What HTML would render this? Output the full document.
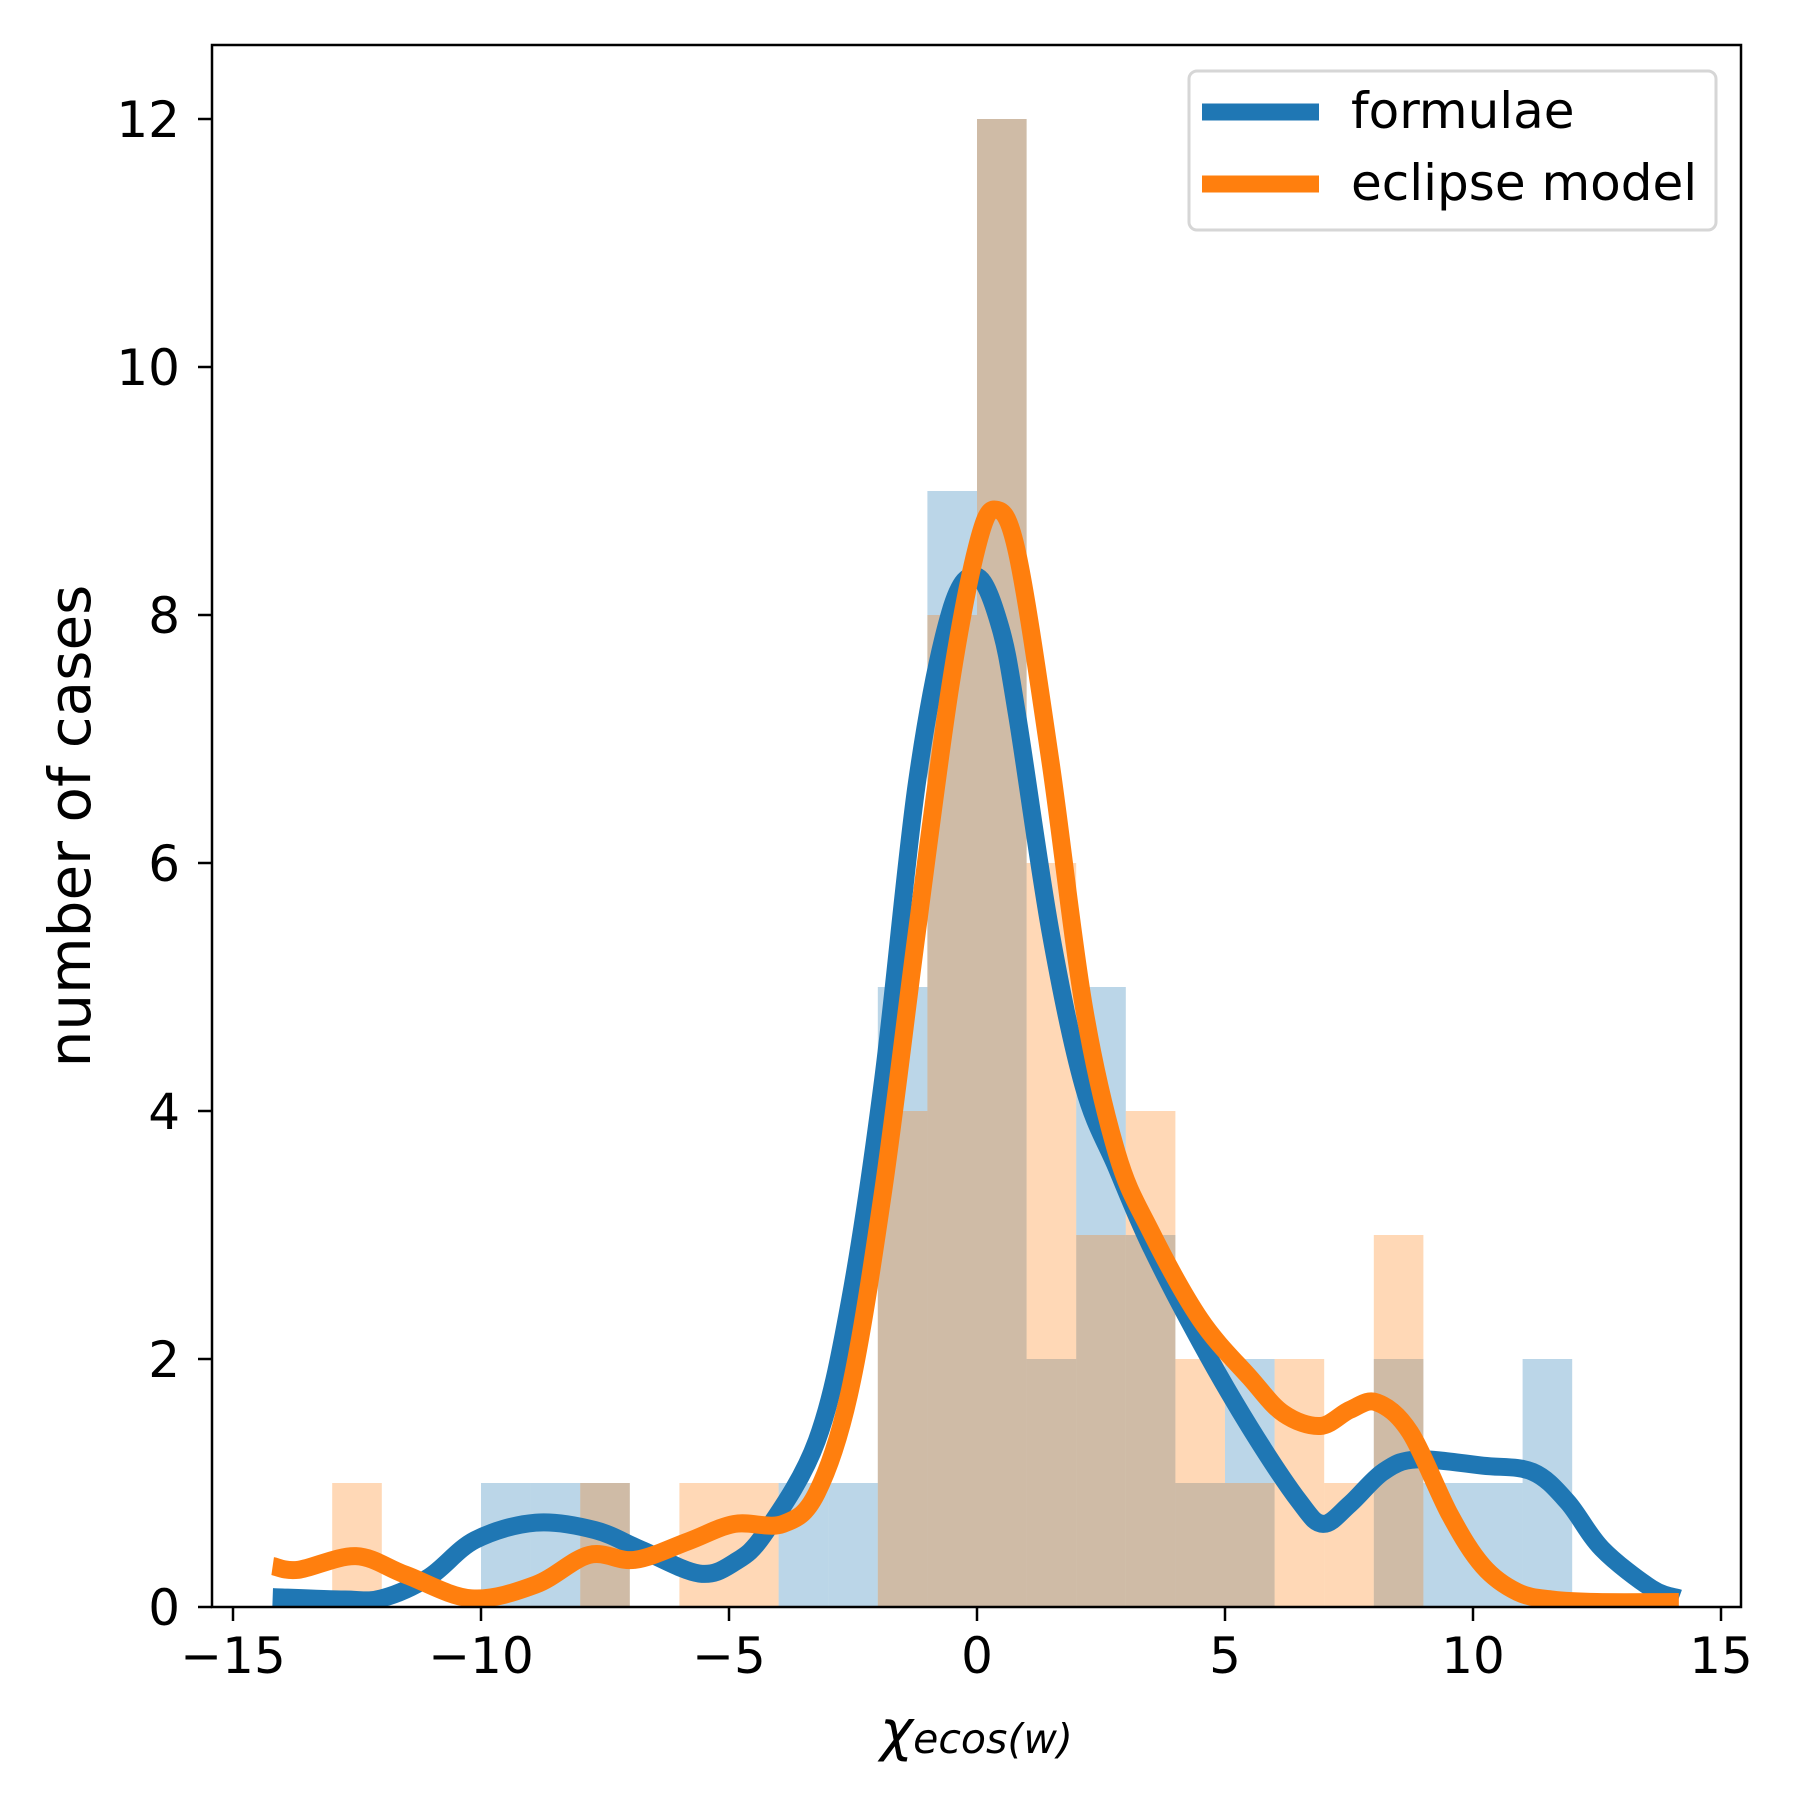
<!DOCTYPE html>
<html><head><meta charset="utf-8"><style>
html,body{margin:0;padding:0;background:#fff;}
svg{display:block;font-family:"DejaVu Sans","Liberation Sans",sans-serif;}
</style></head><body>
<svg id="chart" width="1800" height="1800" viewBox="0 0 1800 1800">
<defs><clipPath id="plotclip"><rect x="212" y="45" width="1529" height="1562"/></clipPath></defs>
<g id="plot" clip-path="url(#plotclip)"></g>
<g id="axes"></g>
</svg>
<script>
// Histogram data (bin left edges, width 1)
const blueBins = [-10,-9,-8,-4,-3,-2,-1,0,1,2,3,4,5,8,9,10,11];
const blueCounts = [1,1,1,1,1,5,9,12,2,5,3,1,2,2,1,1,2];
const orangeBins = [-13,-8,-6,-5,-2,-1,0,1,2,3,4,5,6,7,8];
const orangeCounts = [1,1,1,1,4,8,12,6,3,4,2,1,2,1,3];
// KDE curve samples
const blueX = [-14.2,-12.75,-12,-11.05,-10.12,-8.9,-7.7,-6.76,-5.6,-4.89,-4.27,-3.23,-2.56,-1.89,-1.21,-0.54,0,0.47,0.81,1.48,2.15,2.82,3.49,4.5,5.5,6.5,6.98,7.52,8.19,8.86,10.2,11.2,11.9,12.6,13.6,14.15];
const blueY = [0.08,0.06,0.07,0.24,0.54,0.68,0.62,0.46,0.27,0.36,0.6,1.34,2.47,4.26,6.65,8.02,8.31,7.9,7.19,5.45,4.2,3.54,2.92,2.14,1.45,0.85,0.67,0.83,1.09,1.19,1.14,1.09,0.85,0.47,0.15,0.07];
const orangeX = [-14.2,-13.68,-12.52,-11.52,-10.2,-8.9,-7.82,-6.9,-5.82,-4.89,-3.91,-3.23,-2.56,-1.89,-1.21,-0.54,0,0.37,0.81,1.48,2.15,2.82,3.49,4.5,5.5,6.18,6.92,7.52,8.06,8.73,9.54,10.2,10.9,11.6,12.5,14.15];
const orangeY = [0.33,0.3,0.41,0.26,0.07,0.18,0.42,0.38,0.53,0.67,0.67,0.92,1.75,3.36,5.45,7.42,8.55,8.85,8.5,6.82,4.85,3.66,3.04,2.32,1.85,1.56,1.46,1.59,1.65,1.41,0.74,0.33,0.12,0.06,0.04,0.04];
const xTicks = [-15,-10,-5,0,5,10,15];
const xTickLabels = ["\u221215","\u221210","\u22125","0","5","10","15"];
const yTicks = [0,2,4,6,8,10,12];
const yTickLabels = ["0","2","4","6","8","10","12"];

const X0 = 977, XS = 49.6, Y0 = 1607, YS = 124;
function sx(v){ return X0 + v*XS; }
function sy(v){ return Y0 - v*YS; }
const NS = "http://www.w3.org/2000/svg";
const plot = document.getElementById('plot');
const axes = document.getElementById('axes');
function mk(tag, attrs, parent){ const e=document.createElementNS(NS,tag); for(const k in attrs) e.setAttribute(k,attrs[k]); parent.appendChild(e); return e; }

blueBins.forEach((b,i)=>{
  const r = mk('rect',{x:sx(b),y:sy(blueCounts[i]),width:sx(b+1)-sx(b),height:sy(0)-sy(blueCounts[i]),fill:'#1f77b4','fill-opacity':0.3},plot);
  
  
});
orangeBins.forEach((b,i)=>{
  const r = mk('rect',{x:sx(b),y:sy(orangeCounts[i]),width:sx(b+1)-sx(b),height:sy(0)-sy(orangeCounts[i]),fill:'#ff7f0e','fill-opacity':0.3},plot);
  
  
});
function smoothPath(xs, ys){
  const p = xs.map((x,i)=>[sx(x), sy(ys[i])]);
  let d = 'M'+p[0][0]+','+p[0][1];
  for(let i=0;i<p.length-1;i++){
    const p0=p[Math.max(0,i-1)], p1=p[i], p2=p[i+1], p3=p[Math.min(p.length-1,i+2)];
    const c1=[p1[0]+(p2[0]-p0[0])/6, p1[1]+(p2[1]-p0[1])/6];
    const c2=[p2[0]-(p3[0]-p1[0])/6, p2[1]-(p3[1]-p1[1])/6];
    d+=' C'+c1[0]+','+c1[1]+' '+c2[0]+','+c2[1]+' '+p2[0]+','+p2[1];
  }
  return d;
}
const bl = mk('path',{d:smoothPath(blueX,blueY),fill:'none',stroke:'#1f77b4','stroke-width':18,'stroke-linejoin':'round'},plot);


const ol = mk('path',{d:smoothPath(orangeX,orangeY),fill:'none',stroke:'#ff7f0e','stroke-width':18,'stroke-linejoin':'round'},plot);



// frame
const fr = mk('rect',{x:212,y:45,width:1529,height:1562,fill:'none',stroke:'#000','stroke-width':2.5},axes);


xTicks.forEach((t,i)=>{
  const l = mk('line',{x1:sx(t),x2:sx(t),y1:1607,y2:1621,stroke:'#000','stroke-width':2.5},axes);
  
  
  const tx = mk('text',{x:sx(t),y:1673,'font-size':50,'text-anchor':'middle',fill:'#000'},axes);
  tx.textContent = xTickLabels[i];
  
  
});
yTicks.forEach((t,i)=>{
  const l = mk('line',{x1:198,x2:212,y1:sy(t),y2:sy(t),stroke:'#000','stroke-width':2.5},axes);
  
  
  const tx = mk('text',{x:180,y:sy(t)+18,'font-size':50,'text-anchor':'end',fill:'#000'},axes);
  tx.textContent = yTickLabels[i];
  
  
});
</script>
<div style="position:absolute;left:0;top:0;width:1800px;height:1800px;pointer-events:none;">
<svg width="1800" height="1800" style="position:absolute;left:0;top:0;font-family:'DejaVu Sans','Liberation Sans',sans-serif;">
  <text x="90" y="826" font-size="58" text-anchor="middle" transform="rotate(-90 90 826)" fill="#000">number of cases</text>
  <text x="880" y="1750" font-size="56" font-style="italic" fill="#000">χ<tspan font-size="41" dy="3">ecos(w)</tspan></text>
  <g>
    <rect x="1189" y="71" width="527" height="159" rx="8" fill="#fff" fill-opacity="0.8" stroke="#d6d6d6" stroke-width="3"/>
    <line x1="1202" x2="1319" y1="112" y2="112" stroke="#1f77b4" stroke-width="17"/>
    <text x="1351" y="128" font-size="50" fill="#000">formulae</text>
    <line x1="1202" x2="1319" y1="184" y2="184" stroke="#ff7f0e" stroke-width="17"/>
    <text x="1351" y="200" font-size="50" fill="#000">eclipse model</text>
  </g>
</svg>
</div>
</body></html>
